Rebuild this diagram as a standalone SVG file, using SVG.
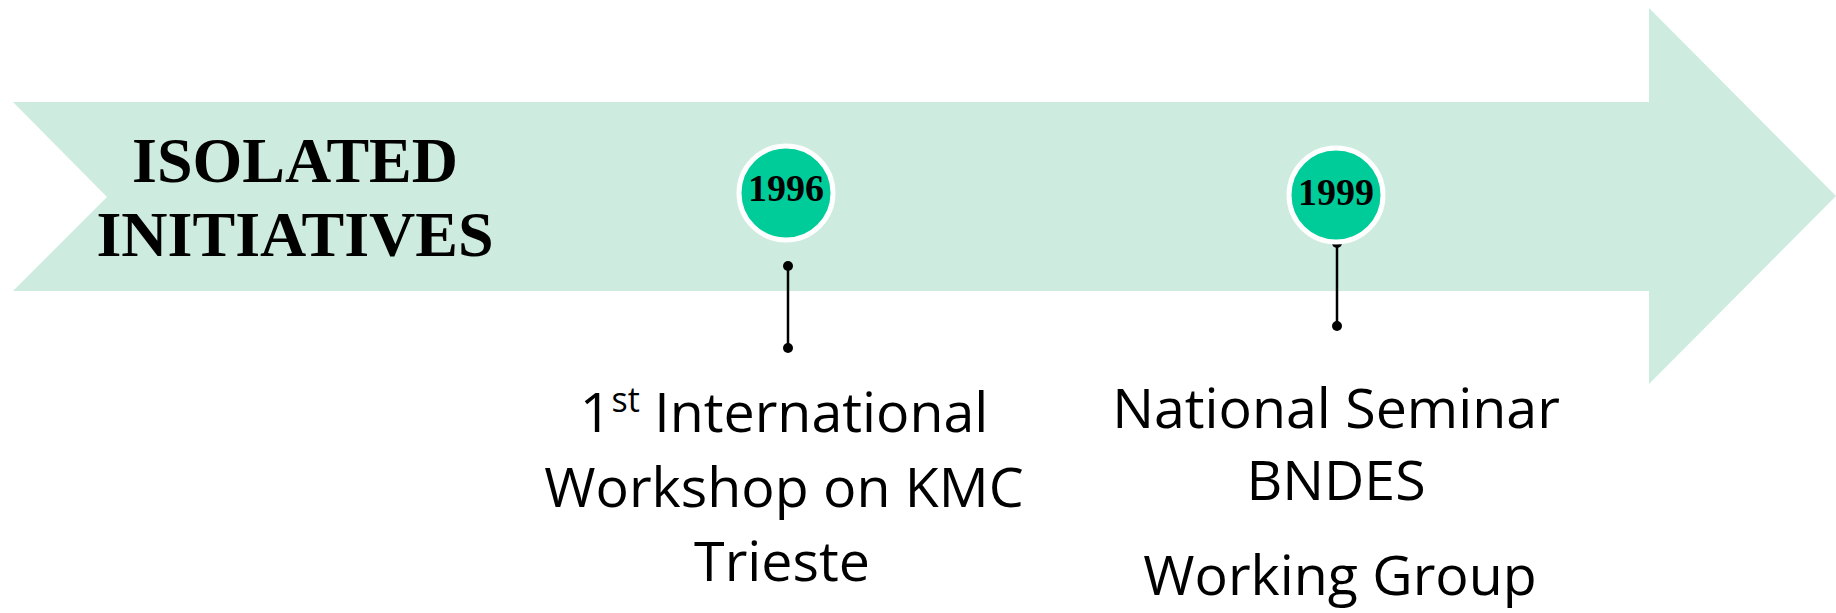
<svg xmlns="http://www.w3.org/2000/svg" width="1836" height="613" viewBox="0 0 1836 613">
  <style>
    .title { font-family: "Liberation Serif", "Times New Roman", serif; font-weight: bold; font-size: 64px; fill: #000; text-anchor: middle; }
    .year { font-family: "Liberation Serif", "Times New Roman", serif; font-weight: bold; font-size: 38px; fill: #000; text-anchor: middle; }
    .label { font-family: "Open Sans", "Liberation Sans", sans-serif; font-size: 55.5px; fill: #000; text-anchor: middle; }
    .bubble { fill: #00CC99; stroke: #FFFFFF; stroke-width: 5; }
    .stem { stroke: #000; stroke-width: 2.5; fill: none; }
    .dot { fill: #000; }
  </style>
  <g id="timeline-arrow">
    <polygon points="13,102 1649,102 1649,8 1836,196 1649,384 1649,291 13,291 107,197" fill="#CDEBDF"/>
    <text class="title" x="295" y="182">ISOLATED</text>
    <text class="title" x="295" y="256">INITIATIVES</text>
  </g>
  <g id="connectors">
    <line class="stem" x1="788" y1="266" x2="788" y2="348"/>
    <circle class="dot" cx="788" cy="266" r="5"/>
    <circle class="dot" cx="788" cy="348" r="5"/>
    <line class="stem" x1="1337" y1="243" x2="1337" y2="326"/>
    <circle class="dot" cx="1337" cy="243" r="5"/>
    <circle class="dot" cx="1337" cy="326" r="5"/>
  </g>
  <g id="node-1996">
    <circle class="bubble" cx="786" cy="193" r="47"/>
    <text class="year" x="786" y="201">1996</text>
  </g>
  <g id="node-1999">
    <circle class="bubble" cx="1336" cy="195" r="47"/>
    <text class="year" x="1336" y="205">1999</text>
  </g>
  <g id="label-1996">
    <text class="label" x="784" y="432">1<tspan font-size="34" dy="-20">st</tspan><tspan dy="20"> International</tspan></text>
    <text class="label" x="784" y="507">Workshop on KMC</text>
    <text class="label" x="782" y="581">Trieste</text>
  </g>
  <g id="label-1999">
    <text class="label" x="1336" y="428">National Seminar</text>
    <text class="label" x="1336" y="500">BNDES</text>
    <text class="label" x="1340" y="595">Working Group</text>
  </g>
</svg>
